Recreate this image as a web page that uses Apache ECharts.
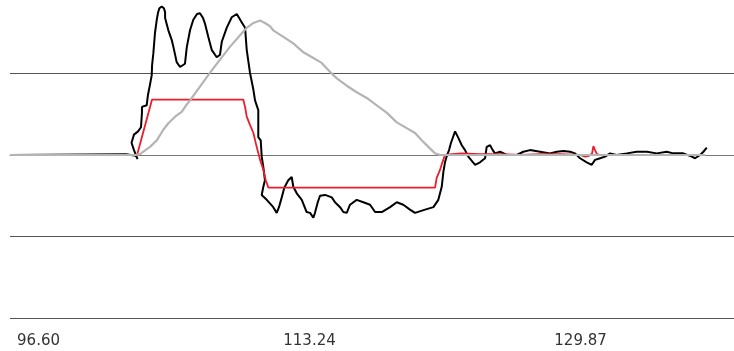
<!DOCTYPE html>
<html>
<head>
<meta charset="utf-8">
<script src="https://cdn.jsdelivr.net/npm/echarts@6/dist/echarts.min.js"></script>
<style>
  html, body { margin: 0; padding: 0; background: #ffffff; }
  #chart { width: 734px; height: 351px; }
</style>
</head>
<body>
<div id="chart"></div>
<script>
// Labelled positions along the horizontal axis and their text
const xTickValues = [96.60, 113.235, 129.87];
const xTickLabels = ['96.60', '113.24', '129.87'];

// Measured signal: [position, value]
const measured = [
  [94.85, 0], [101.97, 0.01], [102.58, -0.01], [102.68, -0.05], [102.46, 0.06], [102.31, 0.15],
  [102.46, 0.25], [102.71, 0.29], [102.89, 0.34], [102.95, 0.52], [102.95, 0.59], [103.24, 0.61],
  [103.32, 0.74], [103.44, 0.86], [103.55, 0.98], [103.57, 1.10], [103.65, 1.25], [103.75, 1.50],
  [103.86, 1.66], [103.94, 1.75], [104.02, 1.80], [104.16, 1.82], [104.30, 1.80], [104.37, 1.75],
  [104.37, 1.68], [104.57, 1.53], [104.78, 1.41], [104.92, 1.29], [105.08, 1.14], [105.29, 1.08],
  [105.59, 1.12], [105.70, 1.32], [105.90, 1.53], [106.10, 1.66], [106.33, 1.73], [106.51, 1.74],
  [106.70, 1.68], [106.82, 1.61], [107.02, 1.45], [107.23, 1.29], [107.54, 1.20], [107.74, 1.23],
  [107.85, 1.39], [108.15, 1.56], [108.46, 1.69], [108.77, 1.73], [109.07, 1.63], [109.28, 1.56],
  [109.38, 1.29], [109.58, 1.01], [109.79, 0.80], [109.89, 0.67], [110.09, 0.55], [110.09, 0.22],
  [110.24, 0.18], [110.30, -0.02], [110.40, -0.15], [110.50, -0.31], [110.40, -0.39], [110.30, -0.49],
  [110.61, -0.55], [111.01, -0.64], [111.22, -0.71], [111.36, -0.64], [111.53, -0.52], [111.69, -0.40],
  [111.93, -0.31], [112.14, -0.27], [112.24, -0.39], [112.45, -0.47], [112.76, -0.55], [113.06, -0.70],
  [113.27, -0.71], [113.47, -0.77], [113.57, -0.71], [113.74, -0.58], [113.88, -0.50], [114.19, -0.49],
  [114.60, -0.52], [114.80, -0.58], [115.11, -0.64], [115.31, -0.70], [115.52, -0.71], [115.72, -0.61],
  [116.13, -0.55], [116.54, -0.58], [116.95, -0.61], [117.26, -0.70], [117.67, -0.70], [118.18, -0.64],
  [118.59, -0.58], [118.99, -0.61], [119.40, -0.67], [119.71, -0.71], [120.33, -0.67], [120.84, -0.64],
  [121.14, -0.55], [121.35, -0.39], [121.45, -0.21], [121.55, -0.09], [121.68, 0], [121.80, 0.06],
  [121.92, 0.15], [122.17, 0.29], [122.37, 0.21], [122.58, 0.12], [122.78, 0.06], [122.98, -0.02],
  [123.40, -0.12], [123.70, -0.09], [124.01, -0.04], [124.11, 0.10], [124.32, 0.12], [124.48, 0.06],
  [124.62, 0.02], [124.93, 0.04], [125.34, 0], [125.96, 0], [126.36, 0.04], [126.77, 0.06],
  [127.39, 0.04], [128.00, 0.02], [128.41, 0.04], [128.82, 0.05], [129.23, 0.04], [129.53, 0.02],
  [129.84, -0.04], [130.25, -0.09], [130.56, -0.12], [130.76, -0.06], [131.07, -0.04], [131.38, -0.02],
  [131.68, 0.02], [132.09, 0], [132.71, 0.02], [133.32, 0.04], [133.94, 0.04], [134.55, 0.02],
  [135.16, 0.04], [135.57, 0.02], [136.18, 0.02], [136.70, -0.02], [136.90, -0.04], [137.21, 0],
  [137.41, 0.04], [137.62, 0.09]
];

// Commanded profile: [position, value]
const command = [
  [94.85, 0], [102.65, 0], [103.57, 0.68], [109.17, 0.68], [109.28, 0.59], [109.38, 0.47],
  [109.58, 0.37], [109.79, 0.27], [109.99, 0.10], [110.20, -0.06], [110.40, -0.18], [110.55, -0.31],
  [110.71, -0.40], [120.94, -0.40], [121.04, -0.28], [121.25, -0.18], [121.39, -0.09], [121.55, 0],
  [121.97, 0.01], [122.58, 0.02], [123.70, 0.01], [124.93, 0.01], [126.16, 0], [127.39, 0.01],
  [128.61, 0.01], [129.84, 0], [130.15, -0.02], [130.39, -0.01], [130.58, 0.02], [130.66, 0.11],
  [130.76, 0.06], [130.88, 0.01], [131.07, 0], [137.51, 0]
];

// Smoothed reference: [position, value]
const reference = [
  [94.85, 0], [102.52, 0], [102.83, 0.01], [103.44, 0.10], [103.86, 0.18], [104.26, 0.31],
  [104.57, 0.39], [104.98, 0.47], [105.39, 0.53], [105.70, 0.62], [105.90, 0.67], [106.51, 0.84],
  [107.13, 1.01], [107.74, 1.17], [108.36, 1.33], [108.97, 1.47], [109.38, 1.56], [109.79, 1.62],
  [110.20, 1.65], [110.50, 1.62], [110.81, 1.58], [111.01, 1.53], [111.63, 1.45], [112.24, 1.37],
  [112.86, 1.26], [113.47, 1.19], [113.98, 1.13], [114.49, 1.02], [114.91, 0.94], [115.52, 0.85],
  [116.13, 0.77], [116.75, 0.70], [117.36, 0.61], [117.97, 0.52], [118.59, 0.40], [119.20, 0.33],
  [119.71, 0.27], [120.12, 0.18], [120.53, 0.10], [120.94, 0.02], [121.25, 0], [137.51, 0]
];

const chart = echarts.init(document.getElementById('chart'), null, { renderer: 'canvas' });

chart.setOption({
  animation: false,
  backgroundColor: '#ffffff',
  grid: {
    left: 10,
    right: 0,
    top: -8,
    bottom: 33,
    containLabel: false,
    outerBoundsMode: 'none'
  },
  xAxis: {
    type: 'value',
    min: 94.85,
    max: 139.29,
    axisLine: { show: true, lineStyle: { color: '#777777', width: 1 } },
    axisTick: { show: false },
    splitLine: { show: false },
    axisLabel: {
      show: true,
      customValues: xTickValues,
      margin: 16,
      fontFamily: 'DejaVu Sans',
      fontSize: 15,
      color: '#333333',
      formatter: function (value) {
        for (let i = 0; i < xTickValues.length; i++) {
          if (Math.abs(xTickValues[i] - value) < 1e-6) return xTickLabels[i];
        }
        return '';
      }
    }
  },
  yAxis: {
    type: 'value',
    min: -2,
    max: 2,
    interval: 1,
    axisLine: { show: false },
    axisTick: { show: false },
    axisLabel: { show: false },
    splitLine: { show: true, lineStyle: { color: '#555555', width: 1 } }
  },
  series: [
    {
      name: 'measured',
      type: 'line',
      data: measured,
      showSymbol: false,
      symbol: 'none',
      lineStyle: { color: '#000000', width: 2 },
      z: 2
    },
    {
      name: 'command',
      type: 'line',
      data: command,
      showSymbol: false,
      symbol: 'none',
      lineStyle: { color: '#ee1d2b', width: 1.8 },
      z: 3
    },
    {
      name: 'reference',
      type: 'line',
      data: reference,
      showSymbol: false,
      symbol: 'none',
      lineStyle: { color: '#b4b4b4', width: 2.2 },
      z: 4
    }
  ]
});
</script>
</body>
</html>
